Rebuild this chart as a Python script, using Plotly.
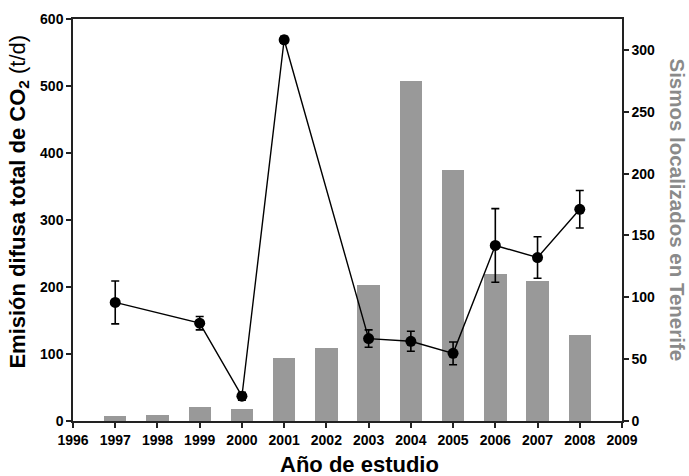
import plotly.graph_objects as go

# Earthquakes located in Tenerife per year (right axis, bars)
bar_years = [1997, 1998, 1999, 2000, 2001, 2002, 2003, 2004, 2005, 2006, 2007, 2008]
sismos = [4, 5, 11, 9.5, 51, 59, 110, 275, 203, 119, 113, 69.5]

# Total diffuse CO2 emission (left axis, points with error bars)
co2_years = [1997, 1999, 2000, 2001, 2003, 2004, 2005, 2006, 2007, 2008]
co2_emision = [177, 146, 37, 569, 123, 119, 101, 262, 244, 316]
co2_error = [32, 10, 6, 5, 13, 15, 17, 55, 31, 28]

x_ticks = list(range(1996, 2010))
left_ticks = [0, 100, 200, 300, 400, 500, 600]
right_ticks = [0, 50, 100, 150, 200, 250, 300]

FONT = "Liberation Sans, Arial, sans-serif"
tick_font = dict(family=FONT, size=14, color="black", weight="bold")

fig = go.Figure()

fig.add_trace(go.Bar(
    x=bar_years, y=sismos, yaxis="y",
    width=0.53, marker=dict(color="#999999", line=dict(width=0)),
    showlegend=False,
))

fig.add_trace(go.Scatter(
    x=co2_years, y=co2_emision, yaxis="y2",
    mode="lines+markers",
    line=dict(color="black", width=1.4),
    marker=dict(color="black", size=11, line=dict(width=0)),
    error_y=dict(type="data", array=co2_error, visible=True,
                 color="black", thickness=1.6, width=4),
    showlegend=False,
))

axis_common = dict(
    showgrid=False, zeroline=False, showline=True, linecolor="#222222",
    linewidth=1.5, ticks="outside", ticklen=5, tickwidth=1.5,
    tickcolor="#222222", tickfont=tick_font,
)

fig.update_layout(
    width=689, height=476,
    margin=dict(l=73, r=67, t=19, b=55),
    paper_bgcolor="white", plot_bgcolor="white",
    bargap=0,
    xaxis=dict(
        range=[1996, 2009], tickvals=x_ticks, ticktext=[str(v) for v in x_ticks],
        mirror=True, **axis_common,
    ),
    # bars live on the base axis (drawn at the back), shown on the right
    yaxis=dict(
        range=[0, 325], tickvals=right_ticks, side="right",
        **axis_common,
    ),
    # CO2 series overlays on the left axis
    yaxis2=dict(
        range=[0, 600], tickvals=left_ticks, side="left",
        overlaying="y", **axis_common,
    ),
    annotations=[
        dict(
            text="<b>Año de estudio</b>", xref="paper", yref="paper",
            x=0.522, y=-0.108, xanchor="center", yanchor="middle",
            showarrow=False, font=dict(family=FONT, size=22, color="black"),
        ),
        dict(
            text="<b>Emisión difusa total de CO<sub>2</sub></b> (t/d)",
            xref="paper", yref="paper", x=-0.1, y=0.546,
            xanchor="center", yanchor="middle", textangle=-90,
            showarrow=False, font=dict(family=FONT, size=22, color="black"),
        ),
        dict(
            text="<b>Sismos localizados en Tenerife</b>",
            xref="paper", yref="paper", x=1.101, y=0.525,
            xanchor="center", yanchor="middle", textangle=90,
            showarrow=False, font=dict(family=FONT, size=20.5, color="#8a8a8a"),
        ),
    ],
)

fig.write_html("out.html")
